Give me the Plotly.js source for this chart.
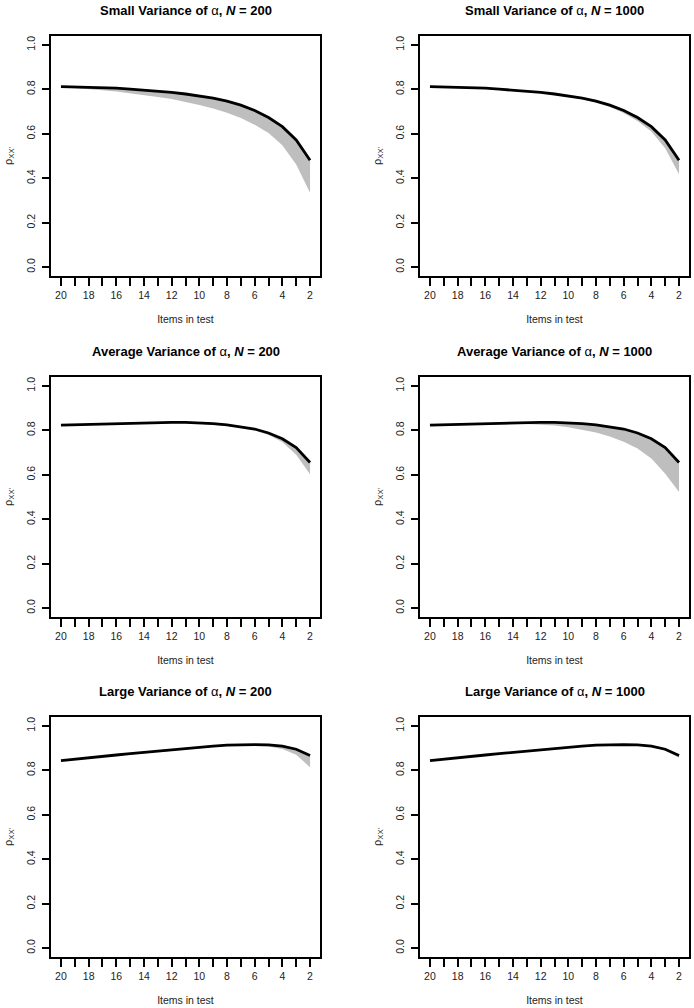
<!DOCTYPE html>
<html>
<head>
<meta charset="utf-8">
<script src="https://cdn.plot.ly/plotly-3.0.1.min.js"></script>
<style>html,body{margin:0;padding:0;background:#fff;}#chart{width:694px;height:1008px;}</style>
</head>
<body>
<div id="chart"></div>
<script>
// Items in test (x axis, shown reversed: 20 -> 2)
const items = [20,19,18,17,16,15,14,13,12,11,10,9,8,7,6,5,4,3,2];
const xLabelVals = [20,18,16,14,12,10,8,6,4,2];
const xTickLabels = ["20","18","16","14","12","10","8","6","4","2"];
const yTickVals = [0,0.2,0.4,0.6,0.8,1.0];
const yTickLabels = ["0.0","0.2","0.4","0.6","0.8","1.0"];

// Black curve (reliability) per variance condition
const smallLine = [0.812,0.811,0.809,0.807,0.805,0.801,0.797,0.792,0.786,0.779,0.770,0.760,0.747,0.729,0.705,0.673,0.632,0.572,0.481];
const avgLine   = [0.823,0.825,0.827,0.829,0.831,0.833,0.835,0.836,0.836,0.836,0.834,0.830,0.825,0.817,0.806,0.788,0.762,0.722,0.655];
const largeLine = [0.844,0.851,0.857,0.863,0.869,0.875,0.881,0.887,0.893,0.899,0.904,0.909,0.913,0.915,0.916,0.915,0.909,0.895,0.867];

// Lower edge of the grey band
const smallLow200  = [0.810,0.806,0.801,0.796,0.790,0.783,0.775,0.766,0.756,0.744,0.730,0.714,0.695,0.671,0.641,0.603,0.548,0.462,0.335];
const smallLow1000 = [0.811,0.810,0.808,0.805,0.803,0.799,0.795,0.789,0.783,0.776,0.766,0.755,0.740,0.720,0.693,0.658,0.610,0.535,0.418];
const avgLow200    = [0.822,0.823,0.825,0.827,0.829,0.830,0.832,0.833,0.833,0.832,0.830,0.826,0.820,0.812,0.799,0.779,0.748,0.690,0.602];
const avgLow1000   = [0.820,0.822,0.824,0.826,0.827,0.828,0.829,0.829,0.827,0.822,0.814,0.803,0.790,0.772,0.749,0.718,0.673,0.605,0.522];
const largeLow200  = [0.842,0.848,0.854,0.860,0.866,0.872,0.878,0.884,0.890,0.896,0.901,0.905,0.909,0.910,0.910,0.907,0.896,0.870,0.814];
const largeLow1000 = [0.842,0.849,0.855,0.861,0.867,0.873,0.879,0.885,0.891,0.897,0.902,0.907,0.911,0.913,0.913,0.912,0.905,0.889,0.857];

const A = "<span style='font-weight:normal'>α</span>";
const panelTitles = [
  "<b>Small Variance of " + A + ", <i>N</i> = 200</b>",
  "<b>Small Variance of " + A + ", <i>N</i> = 1000</b>",
  "<b>Average Variance of " + A + ", <i>N</i> = 200</b>",
  "<b>Average Variance of " + A + ", <i>N</i> = 1000</b>",
  "<b>Large Variance of " + A + ", <i>N</i> = 200</b>",
  "<b>Large Variance of " + A + ", <i>N</i> = 1000</b>"
];
const xTitle = "Items in test";
const yTitle = "ρ<sub>XX'</sub>";

const panels = [
  {line: smallLine, low: smallLow200},
  {line: smallLine, low: smallLow1000},
  {line: avgLine, low: avgLow200},
  {line: avgLine, low: avgLow1000},
  {line: largeLine, low: largeLow200},
  {line: largeLine, low: largeLow1000}
];

const W = 694, H = 1008;
const colX = [[51,320],[420,689]];
const rowY = [[36,276],[377,617],[717,957]];
const titleY = [11,351,691];

const FONT = "Liberation Sans, Arial, Helvetica, sans-serif";
const data = [];
const layout = {
  width: W, height: H,
  margin: {l:0,r:0,t:0,b:0},
  paper_bgcolor: "#ffffff",
  plot_bgcolor: "#ffffff",
  showlegend: false,
  font: {family: FONT, color: "#000", size: 10.5},
  annotations: []
};

panels.forEach((p, i) => {
  const r = Math.floor(i/2), c = i%2;
  const sfx = i === 0 ? "" : String(i+1);
  const xa = "x"+sfx, ya = "y"+sfx;
  data.push({x: items, y: p.low, xaxis: xa, yaxis: ya, type: "scatter", mode: "lines",
             line: {width: 0, color: "#BEBEBE"}, hoverinfo: "skip"});
  data.push({x: items, y: p.line, xaxis: xa, yaxis: ya, type: "scatter", mode: "lines",
             fill: "tonexty", fillcolor: "#BEBEBE", line: {width: 0, color: "#BEBEBE"}, hoverinfo: "skip"});
  data.push({x: items, y: p.line, xaxis: xa, yaxis: ya, type: "scatter", mode: "lines",
             line: {width: 2.8, color: "#000"}});
  const dx = [colX[c][0]/W, colX[c][1]/W];
  const dy = [1 - rowY[r][1]/H, 1 - rowY[r][0]/H];
  layout["xaxis"+sfx] = {
    domain: dx, anchor: ya, range: [20.72, 1.28],
    tickmode: "array", tickvals: xLabelVals, ticktext: xTickLabels,
    ticks: "outside", ticklen: 8, tickwidth: 2, tickcolor: "#000",
    minor: {tickmode: "linear", tick0: 0, dtick: 1, ticks: "outside", ticklen: 8, tickwidth: 2, tickcolor: "#000", showgrid: false},
    showline: true, linewidth: 2, linecolor: "#000", mirror: true,
    showgrid: false, zeroline: false,
    tickfont: {family: FONT, size: 10.5, color: "#222"},
    title: {text: xTitle, standoff: 16, font: {family: FONT, size: 10.5, color: "#222"}}
  };
  layout["yaxis"+sfx] = {
    domain: dy, anchor: xa, range: [-0.04, 1.04],
    tickmode: "array", tickvals: yTickVals, ticktext: yTickLabels, tickangle: -90,
    ticks: "outside", ticklen: 7, tickwidth: 2, tickcolor: "#000",
    ticklabelstandoff: 3,
    showline: true, linewidth: 2, linecolor: "#000", mirror: true,
    showgrid: false, zeroline: false,
    tickfont: {family: FONT, size: 10.5, color: "#222"},
    title: {text: yTitle, standoff: 10, font: {family: FONT, size: 11, color: "#222"}}
  };
  const cx = (colX[c][0]+colX[c][1])/2/W;
  layout.annotations.push({text: panelTitles[i], xref: "paper", yref: "paper",
    x: cx, y: 1 - titleY[r]/H, xanchor: "center", yanchor: "middle", showarrow: false,
    font: {family: FONT, size: 13, color: "#000"}});
});

Plotly.newPlot("chart", data, layout, {staticPlot: true, displayModeBar: false});
</script>
</body>
</html>
